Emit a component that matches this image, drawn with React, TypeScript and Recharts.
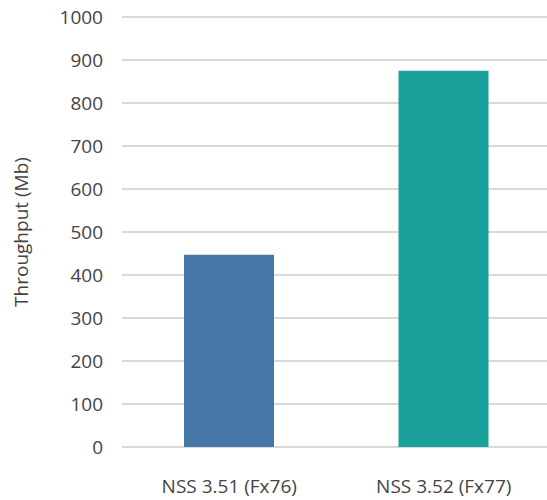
import { Bar, BarChart, CartesianGrid, Cell, XAxis, YAxis } from "recharts";

const versions = ["NSS 3.51 (Fx76)", "NSS 3.52 (Fx77)"];
const throughput = [447, 875];
const barColors = ["#4476a6", "#1aa19c"];
const yTicks = [0, 100, 200, 300, 400, 500, 600, 700, 800, 900, 1000];

const data = versions.map((name, i) => ({ name, value: throughput[i] }));

const font = "'Open Sans', sans-serif";
const textColor = "#444";

export default function App() {
  return (
    <div style={{ position: "fixed", left: 0, top: 0, width: 547, height: 500, overflow: "hidden", background: "#fff" }}>
      <BarChart width={551} height={500} data={data} margin={{ top: 17, right: 0, left: 0, bottom: 0 }}>
        <CartesianGrid vertical={false} stroke="#cccccc" strokeWidth={1.5} />
        <XAxis
          dataKey="name"
          axisLine={false}
          tickLine={false}
          height={53}
          tickMargin={27}
          tick={{ fill: textColor, fontSize: 19, fontFamily: font }}
        />
        <YAxis
          domain={[0, 1000]}
          ticks={yTicks}
          interval={0}
          axisLine={false}
          tickLine={false}
          width={122}
          tickMargin={13}
          tick={{ fill: textColor, fontSize: 19, fontFamily: font }}
          label={{
            value: "Throughput (Mb)",
            angle: -90,
            position: "insideLeft",
            offset: 21,
            style: { fill: textColor, fontSize: 19, fontFamily: font, textAnchor: "middle" },
          }}
        />
        <Bar dataKey="value" barSize={90} isAnimationActive={false}>
          {data.map((d, i) => (
            <Cell key={d.name} fill={barColors[i]} />
          ))}
        </Bar>
      </BarChart>
    </div>
  );
}
